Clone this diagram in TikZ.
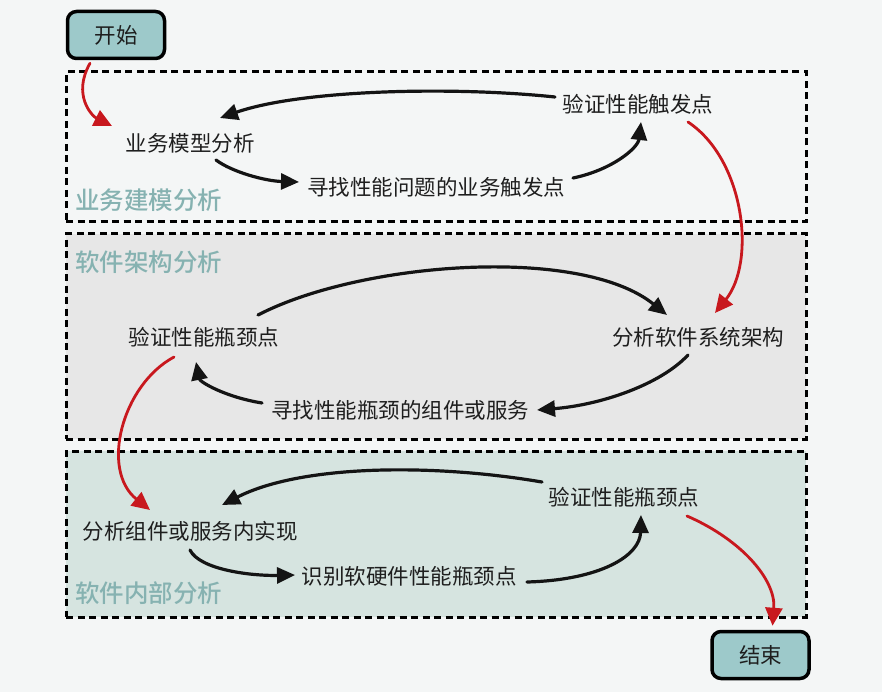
\documentclass[tikz,border=0pt]{standalone}
\usepackage{fontspec}
\newfontfamily\cjk{Noto Sans CJK SC}
\newfontfamily\cjkmed{Noto Sans CJK SC Medium}
\usetikzlibrary{arrows.meta,calc}
\definecolor{bgc}{HTML}{F4F6F6}
\definecolor{termfill}{HTML}{9DC9CA}
\definecolor{sec2}{HTML}{E7E7E7}
\definecolor{sec3}{HTML}{D6E4E0}
\definecolor{seclab}{HTML}{86B2B1}
\definecolor{redc}{HTML}{C8181E}
\definecolor{txt}{HTML}{1E1E1E}
\tikzset{
  term/.style={draw=black, line width=3.5pt, fill=termfill, rounded corners=9pt,
    minimum width=97pt, minimum height=47pt, font=\cjk\fontsize{21.5}{21.5}\selectfont, text=txt},
  stepbox/.style={inner sep=2pt, font=\cjk\fontsize{21.5}{21.5}\selectfont, text=txt},
  secbox/.style={draw=black, line width=3pt, dash pattern=on 7pt off 4.5pt, inner sep=0pt},
  seclabel/.style={anchor=west, inner sep=0pt, font=\cjkmed\fontsize{24.5}{24.5}\selectfont, text=seclab},
  blk/.style={draw=black!92, line width=3.2pt, line cap=round, -{Triangle[length=18pt,width=16pt]}},
  red/.style={draw=redc, line width=2.8pt, line cap=round, -{Triangle[length=18pt,width=17pt]}},
}
\begin{document}
\begin{tikzpicture}[x=1pt,y=-1pt]
\useasboundingbox (0,0) rectangle (882,692);
\fill[bgc] (0,0) rectangle (882,692);
% sections
\node[secbox, minimum width=740pt, minimum height=150pt] (s1) at (436,147) {};
\node[secbox, fill=sec2, minimum width=740pt, minimum height=205pt] (s2) at (436,336.5) {};
\node[secbox, fill=sec3, minimum width=740pt, minimum height=166pt] (s3) at (436,534) {};
\node[seclabel] (l1) at (75,200) {业务建模分析};
\node[seclabel] (l2) at (75,262) {软件架构分析};
\node[seclabel] (l3) at (75,593) {软件内部分析};
% terminals
\node[term] (start) at (116,35) {开始};
\node[term] (end) at (760.5,655) {结束};
% steps
\node[stepbox] (n1) at (190,143) {业务模型分析};
\node[stepbox] (n2) at (436,187) {寻找性能问题的业务触发点};
\node[stepbox] (n3) at (638,104) {验证性能触发点};
\node[stepbox] (n4) at (698,337) {分析软件系统架构};
\node[stepbox] (n5) at (400,410) {寻找性能瓶颈的组件或服务};
\node[stepbox] (n6) at (204,337) {验证性能瓶颈点};
\node[stepbox] (n7) at (190,531) {分析组件或服务内实现};
\node[stepbox] (n8) at (409,576) {识别软硬件性能瓶颈点};
\node[stepbox] (n9) at (624,497) {验证性能瓶颈点};
% black connectors
\draw[blk] ($(n3)+(-83,-7)$) .. controls (450,86) and (300,90) .. ($(n1)+(30,-25)$);
\draw[blk] ($(n1)+(26,17)$) .. controls (232,172) and (265,181) .. ($(n2)+(-137,-5)$);
\draw[blk] ($(n2)+(137,-9)$) .. controls (612,170) and (638,148) .. ($(n3)+(3,18)$);
\draw[blk] ($(n6)+(54,-22)$) .. controls (360,262) and (580,245) .. ($(n4)+(-31,-22)$);
\draw[blk] ($(n4)+(-10,18)$) .. controls (660,385) and (600,405) .. ($(n5)+(137,0)$);
\draw[blk] ($(n5)+(-138,-7)$) .. controls (225,397) and (200,382) .. ($(n6)+(-8,25)$);
\draw[blk] ($(n9)+(-82,-15)$) .. controls (430,463) and (300,465) .. ($(n7)+(32,-26)$);
\draw[blk] ($(n7)+(0,19)$) .. controls (200,570) and (252,576) .. ($(n8)+(-114,-1)$);
\draw[blk] ($(n8)+(118,6)$) .. controls (600,580) and (640,556) .. ($(n9)+(17,18)$);
% red connectors
\draw[red] ($(start.south)+(-26,3)$) .. controls (72,95) and (92,116) .. ($(n1)+(-78,-17)$);
\draw[red] ($(n3)+(50,18)$) .. controls (745,160) and (756,262) .. ($(n4)+(17,-24)$);
\draw[red] ($(n6)+(-30,20)$) .. controls (122,385) and (100,470) .. ($(n7)+(-40,-21)$);
\draw[red] ($(n9)+(63,19)$) .. controls (742,540) and (776,580) .. ($(end.north)+(12,-4)$);
\end{tikzpicture}
\end{document}
